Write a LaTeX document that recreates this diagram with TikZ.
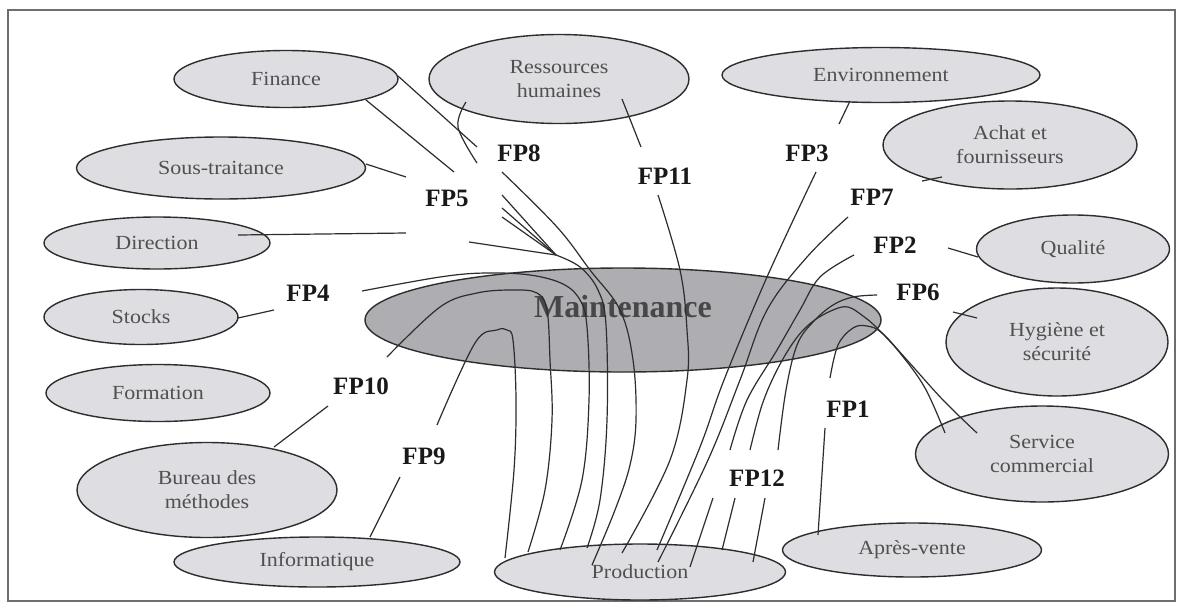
\documentclass[tikz,border=0pt]{standalone}
\usepackage{fontspec}
\setmainfont{Liberation Serif}
\newfontfamily\labfont{Liberation Serif}[FakeStretch=1.1]
\usetikzlibrary{shapes.geometric}
\definecolor{elfill}{RGB}{222,222,226}
\definecolor{mfill}{RGB}{174,174,178}
\definecolor{edgecol}{RGB}{45,45,45}
\definecolor{labcol}{RGB}{80,80,80}
\definecolor{fpcol}{RGB}{25,25,25}
\definecolor{framecol}{RGB}{110,110,110}
\begin{document}
\begin{tikzpicture}[x=1pt,y=-1pt,
  el/.style={ellipse, draw=edgecol, line width=1.4pt, fill=elfill, inner sep=0pt, align=center, text=labcol, font=\labfont\fontsize{20}{24}\selectfont},
  fp/.style={font=\bfseries\fontsize{25}{28}\selectfont, text=fpcol, inner sep=0pt},
  ln/.style={draw=edgecol, line width=1.2pt},
  sm/.style={smooth, tension=0.6}
]
\useasboundingbox (0,0) rectangle (1180,606);
\fill[white] (0,0) rectangle (1180,606);
\draw[framecol, line width=1.5pt] (8,10) rectangle (1175,601);

% ellipses
\node[el, minimum width=224, minimum height=57] (fin) at (286,79) {Finance};
\node[el, minimum width=260, minimum height=89] (rh) at (559,79) {Ressources\\humaines};
\node[el, minimum width=318, minimum height=55] (env) at (881,75) {Environnement};
\node[el, minimum width=254, minimum height=88] (ach) at (1010,145) {Achat et\\fournisseurs};
\node[el, minimum width=289, minimum height=62] (sous) at (221,168) {Sous-traitance};
\node[el, minimum width=226, minimum height=52] (dir) at (157,243) {Direction};
\node[el, minimum width=193, minimum height=68] (qual) at (1073,249) {Qualité};
\node[el, minimum width=194, minimum height=55] (sto) at (141,317) {Stocks};
\node[el, minimum width=224, minimum height=57] (form) at (158,393) {Formation};
\node[el, minimum width=260, minimum height=95] (bur) at (207,490) {Bureau des\\méthodes};
\node[el, minimum width=286, minimum height=50] (inf) at (317,562) {Informatique};
\node[el, minimum width=291, minimum height=56] (prod) at (640,572) {Production};
\node[el, minimum width=259, minimum height=54] (apv) at (912,550) {Après-vente};
\node[el, minimum width=253, minimum height=96] (serv) at (1042,454) {Service\\commercial};
\node[el, minimum width=222, minimum height=108] (hyg) at (1057,342) {Hygiène et\\sécurité};
\node[ellipse, draw=edgecol, line width=1.4pt, fill=mfill, inner sep=0pt, minimum width=516, minimum height=104] (mnt) at (623,320) {};
\node[font=\bfseries\fontsize{32}{36}\selectfont, text=black!72, inner sep=0pt] (mtext) at (623,307) {Maintenance};

% FP labels
\node[fp] (fp8) at (519,153) {FP8};
\node[fp] (fp5) at (447,198) {FP5};
\node[fp] (fp11) at (665,176) {FP11};
\node[fp] (fp3) at (807,153) {FP3};
\node[fp] (fp7) at (872,197) {FP7};
\node[fp] (fp2) at (895,245) {FP2};
\node[fp] (fp6) at (918,292) {FP6};
\node[fp] (fp4) at (308,293) {FP4};
\node[fp] (fp10) at (361,386) {FP10};
\node[fp] (fp9) at (424,456) {FP9};
\node[fp] (fp1) at (848,409) {FP1};
\node[fp] (fp12) at (757,478) {FP12};

% connector end points
\coordinate (finA) at (398,76);   \coordinate (finAe) at (477,147);
\coordinate (finB) at (366,100);  \coordinate (finBe) at (454,172);
\coordinate (rhA) at (466,102);   \coordinate (rhAe) at (477,163);
\coordinate (souA) at (366,164);  \coordinate (souAe) at (406,177);
\coordinate (dirA) at (238,235);  \coordinate (dirAe) at (406,233);
\coordinate (cv) at (556,255);
\coordinate (s6) at (469,242);
\coordinate (s7) at (502,195);
\coordinate (s8) at (502,208);
\coordinate (s9) at (502,217);
\coordinate (pA) at (587,548);
\coordinate (s11) at (502,172);   \coordinate (pB) at (592,565);
\coordinate (s12) at (362,291);   \coordinate (pC) at (560,550);
\coordinate (s13) at (387,357);   \coordinate (pD) at (528,552);
\coordinate (s14) at (437,425);   \coordinate (pE) at (505,558);
\coordinate (rhB) at (622,99);    \coordinate (rhBe) at (641,147);
\coordinate (s16) at (658,195);   \coordinate (pF) at (622,553);
\coordinate (envA) at (850,101);  \coordinate (envAe) at (839,124);
\coordinate (s18) at (816,172);   \coordinate (pG) at (657,550);
\coordinate (s19) at (848,217);   \coordinate (pH) at (658,562);
\coordinate (s20) at (854,255);   \coordinate (e20) at (730,450);
\coordinate (s21) at (877,295);   \coordinate (e21) at (778,450);
\coordinate (s22) at (750,450);   \coordinate (svA) at (945,433);
\coordinate (s23) at (830,378);   \coordinate (svB) at (977,433);
\coordinate (s24) at (825,428);   \coordinate (apA) at (818,535);
\coordinate (s25a) at (713,498);  \coordinate (pI) at (690,567);
\coordinate (s25b) at (735,498);  \coordinate (pJ) at (722,550);
\coordinate (s25c) at (765,498);  \coordinate (pK) at (753,562);
\coordinate (s26) at (948,248);   \coordinate (quA) at (978,257);
\coordinate (s27) at (953,312);   \coordinate (hyA) at (977,318);
\coordinate (achA) at (922,181);  \coordinate (achAe) at (942,177);
\coordinate (stoA) at (238,318);  \coordinate (stoAe) at (274,310);
\coordinate (burA) at (274,447);  \coordinate (burAe) at (328,406);
\coordinate (infA) at (370,537);  \coordinate (infAe) at (400,477);

% connectors
\draw[ln] (finA) -- (finAe);
\draw[ln] (finB) -- (finBe);
\draw[ln] plot[sm] coordinates {(rhA) (458,127) (rhAe)};
\draw[ln] (souA) -- (souAe);
\draw[ln] (dirA) -- (dirAe);
\draw[ln] (s6) -- (cv);
\draw[ln] (s7) -- (cv);
\draw[ln] (s8) -- (cv);
\draw[ln] (s9) -- (cv);
\draw[ln] plot[sm] coordinates {(cv) (580,267) (598,290) (606,325) (607,420) (600,500) (pA)};
\draw[ln] plot[sm] coordinates {(s11) (557,227) (590,270) (620,310) (633,360) (636,420) (630,465) (615,510) (pB)};
\draw[ln] plot[sm] coordinates {(s12) (440,277) (485,273) (530,275) (563,284) (580,300) (587,327) (589,400) (582,480) (pC)};
\draw[ln] plot[sm] coordinates {(s13) (440,307) (477,293) (513,290) (537,293) (547,310) (550,360) (552,420) (545,490) (pD)};
\draw[ln] plot[sm] coordinates {(s14) (475,343) (497,330) (507,330) (513,340) (516,400) (514,470) (pE)};
\draw[ln] (rhB) -- (rhBe);
\draw[ln] plot[sm] coordinates {(s16) (680,270) (687,330) (687,380) (670,460) (pF)};
\draw[ln] (envA) -- (envAe);
\draw[ln] plot[sm] coordinates {(s18) (767,277) (724,380) (700,447) (pG)};
\draw[ln] plot[sm] coordinates {(s19) (807,257) (767,310) (740,380) (708,460) (pH)};
\draw[ln] plot[sm] coordinates {(s20) (820,277) (800,310) (777,350) (747,400) (e20)};
\draw[ln] plot[sm] coordinates {(s21) (853,297) (833,305) (813,322) (797,345) (786,390) (e21)};
\draw[ln] plot[sm] coordinates {(s22) (762,405) (777,370) (795,340) (812,322) (833,310) (848,307) (863,316) (877,328) (900,353) (925,388) (svA)};
\draw[ln] plot[sm] coordinates {(s23) (838,345) (853,328) (867,326) (882,333) (907,360) (943,400) (svB)};
\draw[ln] (s24) -- (apA);
\draw[ln] (s25a) -- (pI);
\draw[ln] (s25b) -- (pJ);
\draw[ln] (s25c) -- (pK);
\draw[ln] (s26) -- (quA);
\draw[ln] (s27) -- (hyA);
\draw[ln] (achA) -- (achAe);
\draw[ln] (stoA) -- (stoAe);
\draw[ln] (burA) -- (burAe);
\draw[ln] (infA) -- (infAe);
\end{tikzpicture}
\end{document}
